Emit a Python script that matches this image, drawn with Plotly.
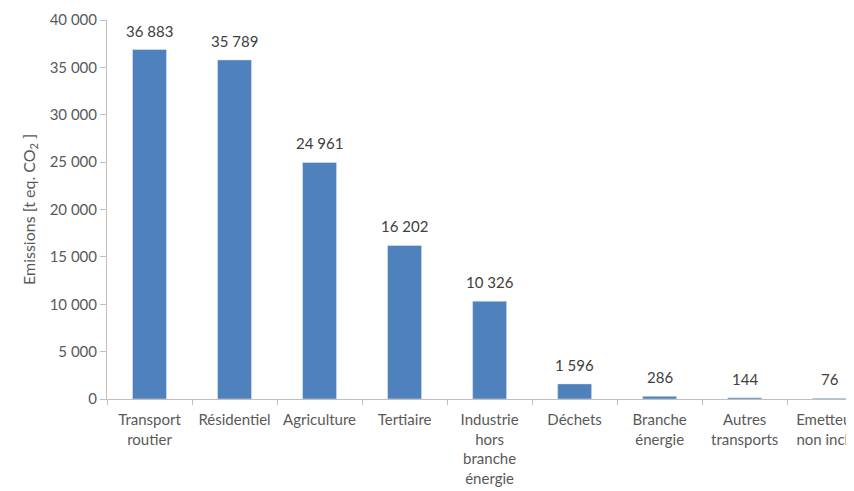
import plotly.graph_objects as go

categories = [
    "Transport<br>routier", "Résidentiel", "Agriculture", "Tertiaire",
    "Industrie<br>hors<br>branche<br>énergie", "Déchets", "Branche<br>énergie",
    "Autres<br>transports", "Emetteurs<br>non inclus",
]
emissions = [36883, 35789, 24961, 16202, 10326, 1596, 286, 144, 76]
y_ticks = [0, 5000, 10000, 15000, 20000, 25000, 30000, 35000, 40000]


def fr(n):
    # thousands separated by a space, like the original
    return f"{n:,}".replace(",", " ")


fig = go.Figure()
fig.add_trace(go.Bar(
    x=categories, y=emissions,
    marker_color="#4F81BD", width=0.4,
    hoverinfo="x+y",
))

for c, v in zip(categories, emissions):
    fig.add_annotation(x=c, y=v, text=fr(v), showarrow=False,
                       yanchor="bottom", yshift=8,
                       font=dict(size=15, color="#404040"))

# page body has an 8px margin, so the margins are shifted to compensate
fig.update_layout(
    width=854, height=491,
    margin=dict(l=99, r=0, t=12, b=100),
    plot_bgcolor="white", paper_bgcolor="white",
    font=dict(family="Lato", size=15, color="#595959"),
    showlegend=False,
    bargap=0.6,
)
fig.update_xaxes(
    range=[-0.5, 8.38], automargin=False,
    showline=True, linecolor="#BFBFBF", linewidth=1,
    ticks="outside", tickson="boundaries", ticklen=5, tickcolor="#BFBFBF",
    ticklabelstandoff=7,
    tickfont=dict(size=15, color="#595959"),
    showgrid=False,
)
fig.update_yaxes(
    range=[0, 40000], automargin=False,
    tickvals=y_ticks, ticktext=[fr(t) for t in y_ticks],
    showline=True, linecolor="#BFBFBF", linewidth=1,
    ticks="outside", ticklen=6, tickcolor="#BFBFBF",
    tickfont=dict(size=15, color="#595959"),
    showgrid=False, zeroline=False,
    title=dict(text="Emissions [t eq. CO<sub>2</sub> ]", standoff=10,
               font=dict(size=16, color="#595959")),
)

fig.write_html("out.html")
